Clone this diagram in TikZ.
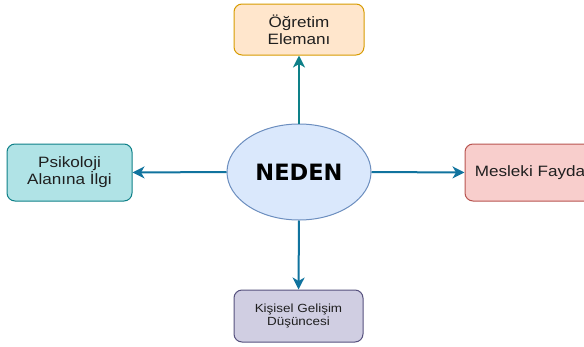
\documentclass[tikz,border=0pt]{standalone}
\usepackage{fontspec}
\setmainfont{Liberation Sans}[FakeStretch=1.14]
\newfontfamily\nedenfont{DejaVu Sans}
\usetikzlibrary{shapes.geometric,arrows.meta}
\definecolor{tealc}{HTML}{0E8088}
\definecolor{bluec}{HTML}{10739E}
\tikzset{
  box/.style={draw, rounded corners=8pt, line width=1pt, inner sep=0pt, align=center,
    text=black!88, font=\fontsize{15}{17}\selectfont},
  arr/.style={line width=2pt, -{Stealth[length=12pt,width=12pt,inset=3.5pt]}},
}
\begin{document}
\begin{tikzpicture}[x=1pt,y=-1pt]
\useasboundingbox (0,0) rectangle (584,346);
\clip (0,0) rectangle (584,346);
\node[box, fill={rgb,255:red,255;green,230;blue,204}, draw={rgb,255:red,215;green,155;blue,0},
  minimum width=130pt, minimum height=51pt] (top) at (299,29.5) {Öğretim\\Elemanı};
\node[box, fill={rgb,255:red,176;green,227;blue,230}, draw=tealc,
  minimum width=125pt, minimum height=57pt] (left) at (69.5,172.5) {Psikoloji\\Alanına İlgi};
\node[box, fill={rgb,255:red,248;green,206;blue,204}, draw={rgb,255:red,184;green,84;blue,80},
  minimum width=130pt, minimum height=57pt] (right) at (530,172.5) {Mesleki Fayda};
\node[box, fill={rgb,255:red,208;green,206;blue,226}, draw={rgb,255:red,86;green,81;blue,126},
  minimum width=129pt, minimum height=52pt, font=\fontsize{11.8}{13.5}\selectfont] (bot) at (298.5,316) {Kişisel Gelişim\\Düşüncesi};
\node[ellipse, draw={rgb,255:red,108;green,142;blue,191}, fill={rgb,255:red,218;green,232;blue,252},
  line width=1pt, inner sep=0pt, minimum width=144pt, minimum height=96pt,
  font=\nedenfont\bfseries\fontsize{22.5}{27}\selectfont] (e) at (299,172) {NEDEN};
\draw[arr, tealc] (e.north) -- (top.south);
\draw[arr, bluec] (e.west) -- (left.east);
\draw[arr, bluec] (e.east) -- (right.west);
\draw[arr, bluec] (e.south) -- (bot.north);
\end{tikzpicture}
\end{document}
